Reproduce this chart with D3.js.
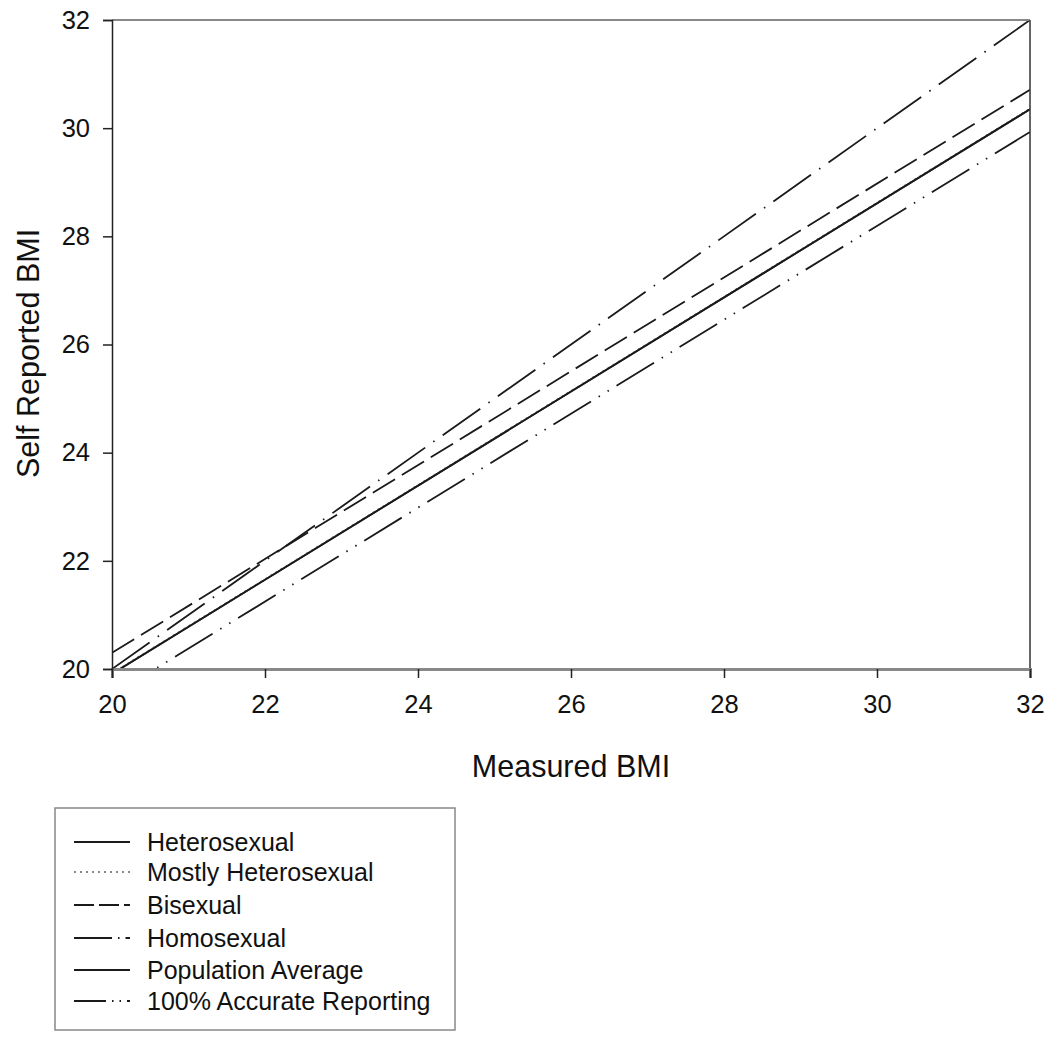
<!DOCTYPE html>
<html><head><meta charset="utf-8">
<script src="https://cdn.jsdelivr.net/npm/d3@7"></script>
<style>body{margin:0;background:#fff}svg{display:block}text{font-family:"Liberation Sans",Arial,sans-serif;fill:#111}</style>
</head><body>
<svg id="c" width="1050" height="1040"></svg>
<script>
const xTicks = [20,22,24,26,28,30,32];
const yTicks = [20,22,24,26,28,30,32];
const seriesNames = ["Heterosexual","Mostly Heterosexual","Bisexual","Homosexual","Population Average","100% Accurate Reporting"];
// endpoints [y at x=20, y at x=32]
const heteroVals = [19.91, 30.35];
const mostlyVals = [19.92, 30.36];
const biVals = [20.30, 30.71];
const homoVals = [20.0, 32.0];
const popVals = [19.91, 30.35];
const accurateVals = [19.51, 29.93];
const xEnds = [20, 32];
const dashes = ["none","2,4","26,8","46,10,1.5,10","none","44,9,1.5,9,1.5,9"];

const svg = d3.select("#c");
const L=112, R=1030, T=20, B=669;
const x = d3.scaleLinear().domain([20,32]).range([L,R]);
const y = d3.scaleLinear().domain([20,32]).range([B,T]);

const defs = svg.append("defs");
defs.append("clipPath").attr("id","clip").append("rect").attr("x",L).attr("y",T).attr("width",R-L).attr("height",B-T);

const allVals=[heteroVals,mostlyVals,biVals,homoVals,popVals,accurateVals];
const line = d3.line().x(d=>x(d[0])).y(d=>y(d[1]));
const g = svg.append("g").attr("clip-path","url(#clip)");
allVals.forEach((v,i)=>{
  g.append("path").datum(xEnds.map((xx,j)=>[xx,v[j]]))
   .attr("d",line).attr("fill","none").attr("stroke",i===1?"#666":"#1a1a1a")
   .attr("stroke-width",1.8).attr("stroke-dasharray",dashes[i]);
});

// frame
svg.append("line").attr("x1",L).attr("x2",R).attr("y1",T).attr("y2",T).attr("stroke","#888").attr("stroke-width",2);
svg.append("line").attr("x1",R).attr("x2",R).attr("y1",T).attr("y2",B).attr("stroke","#333").attr("stroke-width",1.5);

const xAxis = svg.append("g").attr("transform",`translate(0,${B})`)
  .call(d3.axisBottom(x).tickValues(xTicks).tickSize(9).tickPadding(17).tickFormat(d3.format("d")));
xAxis.select(".domain").attr("stroke","#888").attr("stroke-width",3);
xAxis.selectAll(".tick line").attr("stroke","#222").attr("stroke-width",1.5);
xAxis.selectAll("text").attr("font-size",25.5).attr("fill","#111").style("font-family","Liberation Sans, Arial");

const yAxis = svg.append("g").attr("transform",`translate(${L},0)`)
  .call(d3.axisLeft(y).tickValues(yTicks).tickSize(9).tickPadding(13).tickFormat(d3.format("d")));
yAxis.select(".domain").attr("stroke","#222").attr("stroke-width",1.5);
yAxis.selectAll(".tick line").attr("stroke","#222").attr("stroke-width",1.5);
yAxis.selectAll("text").attr("font-size",25.5).attr("fill","#111").style("font-family","Liberation Sans, Arial");

svg.append("text").attr("x",(L+R)/2).attr("y",777).attr("text-anchor","middle").attr("font-size",30.5).text("Measured BMI");
svg.append("text").attr("transform",`translate(39,${(T+B)/2+9}) rotate(-90)`).attr("text-anchor","middle").attr("font-size",30.5).text("Self Reported BMI");

// legend
const lg = svg.append("g");
lg.append("rect").attr("x",55).attr("y",808).attr("width",400).attr("height",222).attr("fill","none").attr("stroke","#888").attr("stroke-width",1.5);
const ly = [842,872,905,938,970,1001];
seriesNames.forEach((n,i)=>{
  lg.append("line").attr("x1",74).attr("x2",130).attr("y1",ly[i]).attr("y2",ly[i])
    .attr("stroke",i===1?"#888":"#1a1a1a").attr("stroke-width",1.8)
    .attr("stroke-dasharray", i===2?"20,5":i===1?"2,4":i===3?"38,6,1.5,6":i===5?"32,6,1.5,6,1.5,6":"none");
  lg.append("text").attr("x",147).attr("y",ly[i]).attr("dy","0.36em").attr("font-size",25).text(n);
});
</script>
</body></html>
